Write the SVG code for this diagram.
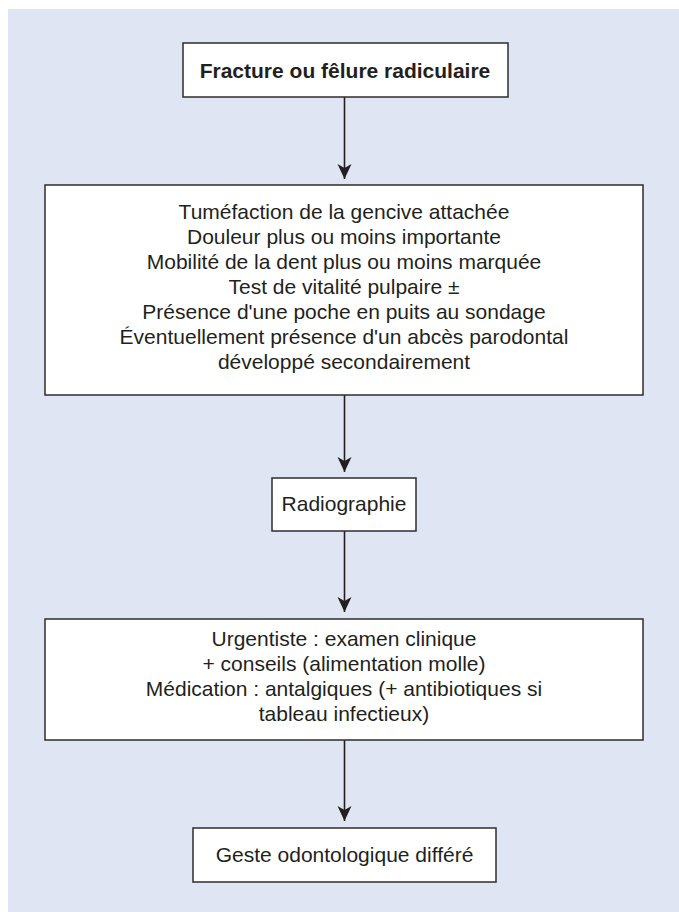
<svg xmlns="http://www.w3.org/2000/svg" width="679" height="912" viewBox="0 0 679 912">
  <style>
    .bg { fill: #dfe5f2; }
    .box { fill: #ffffff; stroke: #2e2c2e; stroke-width: 1.5; }
    .txt { font-family: "Liberation Sans", Arial, sans-serif; font-size: 21px; fill: #231f20; text-anchor: middle; }
    .bold { font-weight: bold; }
    .link { stroke: #231f20; stroke-width: 1.6; fill: none; marker-end: url(#head); }
  </style>
  <defs>
    <!-- notched arrowhead, tip at the path end -->
    <marker id="head" viewBox="-16 -8 17 16" refX="0" refY="0" markerWidth="17" markerHeight="16" markerUnits="userSpaceOnUse" orient="auto">
      <path d="M0,0 L-15,-7 L-11,0 L-15,7 Z" fill="#231f20"/>
    </marker>
  </defs>

  <rect class="bg" x="8" y="9" width="671" height="903"/>

  <g id="connectors">
    <path class="link" d="M344.5,97 V179"/>
    <path class="link" d="M344.5,395 V472"/>
    <path class="link" d="M344.5,531 V612"/>
    <path class="link" d="M344.5,740 V821"/>
  </g>

  <g id="node-fracture">
    <rect class="box" x="183" y="43" width="325" height="54"/>
    <text class="txt bold" x="345" y="78">Fracture ou fêlure radiculaire</text>
  </g>

  <g id="node-signes">
    <rect class="box" x="45" y="185" width="598" height="210"/>
    <text class="txt" x="344" y="219">Tuméfaction de la gencive attachée</text>
    <text class="txt" x="344" y="244">Douleur plus ou moins importante</text>
    <text class="txt" x="344" y="269">Mobilité de la dent plus ou moins marquée</text>
    <text class="txt" x="344" y="294">Test de vitalité pulpaire ±</text>
    <text class="txt" x="344" y="319">Présence d'une poche en puits au sondage</text>
    <text class="txt" x="344" y="344">Éventuellement présence d'un abcès parodontal</text>
    <text class="txt" x="344" y="369">développé secondairement</text>
  </g>

  <g id="node-radio">
    <rect class="box" x="272" y="478" width="144" height="53"/>
    <text class="txt" x="344" y="511">Radiographie</text>
  </g>

  <g id="node-urgence">
    <rect class="box" x="45" y="619" width="598" height="121"/>
    <text class="txt" x="344" y="646">Urgentiste : examen clinique</text>
    <text class="txt" x="344" y="671">+ conseils (alimentation molle)</text>
    <text class="txt" x="344" y="696">Médication : antalgiques (+ antibiotiques si</text>
    <text class="txt" x="344" y="721">tableau infectieux)</text>
  </g>

  <g id="node-geste">
    <rect class="box" x="193" y="828" width="303" height="54"/>
    <text class="txt" x="344.5" y="862">Geste odontologique différé</text>
  </g>
</svg>
